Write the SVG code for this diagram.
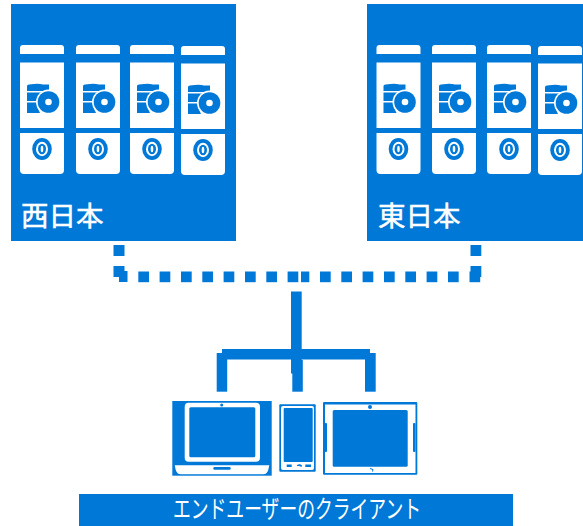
<svg xmlns="http://www.w3.org/2000/svg" xmlns:xlink="http://www.w3.org/1999/xlink" width="583" height="526" viewBox="0 0 583 526">
<style>
.b{fill:#0078d7}.w{fill:#fff}
.t{font-family:"Noto Sans CJK JP","Liberation Sans",sans-serif;fill:#fff}
.h{stroke:#fff;stroke-width:.5}
</style>
<defs>
<g id="server">
<path class="w" d="M0 54V48Q0 45 3 45H41Q44 45 44 48V54Z"/>
<rect class="w" y="62.500" width="44" height="65.500"/>
<path class="w" d="M0 133H44V170Q44 174 40 174H4Q0 174 0 170Z"/>
<path class="b" d="M7 86Q7 84.500 9 84.500L14 84Q19 83.500 23 84.500H29V91H7ZM7 92.500H27L20 101H7ZM7 102.500H17Q17 108 20 113H7Z"/>
<circle class="w" cx="28.500" cy="102" r="12.500"/>
<circle class="b" cx="28.500" cy="102" r="10.800"/>
<circle class="w" cx="28.500" cy="102" r="3.300"/>
<ellipse class="b" cx="22" cy="149" rx="9.800" ry="11"/>
<ellipse class="w" cx="22" cy="149" rx="6" ry="7.200"/>
<ellipse class="b" cx="22" cy="149" rx="4" ry="5.300"/>
<ellipse class="w" cx="22" cy="149" rx="1.300" ry="3.300"/>
</g>
</defs>
<g id="west">
<rect class="b" x="11" y="4" width="225" height="237"/>
<use xlink:href="#server" href="#server" x="20"/>
<use xlink:href="#server" href="#server" x="76"/>
<use xlink:href="#server" href="#server" x="130"/>
<use xlink:href="#server" href="#server" x="181" y="1"/>
<text class="t h" x="21" y="226" font-size="27.500">西日本</text>
</g>
<g id="east">
<rect class="b" x="367" y="4" width="216" height="237"/>
<use xlink:href="#server" href="#server" x="376.500"/>
<use xlink:href="#server" href="#server" x="432"/>
<use xlink:href="#server" href="#server" x="487"/>
<use xlink:href="#server" href="#server" x="538" y="1"/>
<text class="t h" x="378" y="226" font-size="27.500">東日本</text>
</g>
<g id="connectors" class="b">
<rect x="113.500" y="245" width="11" height="11"/>
<rect x="113.500" y="266" width="11" height="11"/>
<rect x="119" y="271" width="8.500" height="11"/>
<rect x="138.300" y="271.500" width="10.700" height="10.700"/>
<rect x="159.600" y="271.500" width="10.700" height="10.700"/>
<rect x="181" y="271.500" width="10.700" height="10.700"/>
<rect x="202.300" y="271.500" width="10.700" height="10.700"/>
<rect x="223.600" y="271.500" width="10.700" height="10.700"/>
<rect x="245" y="271.500" width="10.700" height="10.700"/>
<rect x="266.300" y="271.500" width="10.700" height="10.700"/>
<rect x="287.600" y="271.500" width="10.700" height="10.700"/>
<rect x="301" y="271.500" width="8.300" height="10.700"/>
<rect x="320" y="271.500" width="10.700" height="10.700"/>
<rect x="341.300" y="271.500" width="10.700" height="10.700"/>
<rect x="362.600" y="271.500" width="10.700" height="10.700"/>
<rect x="384" y="271.500" width="10.700" height="10.700"/>
<rect x="405.300" y="271.500" width="10.700" height="10.700"/>
<rect x="426.600" y="271.500" width="10.700" height="10.700"/>
<rect x="448" y="271.500" width="10.700" height="10.700"/>
<rect x="469.500" y="271.500" width="10.700" height="10.700"/>
<rect x="470.500" y="245" width="10.800" height="11"/>
<rect x="470.500" y="266" width="10.800" height="11"/>
<rect x="291" y="291.500" width="10.700" height="82"/>
<rect x="292.300" y="360" width="10.500" height="31.700"/>
<rect x="222" y="349" width="148" height="10.500"/>
<rect x="216.700" y="353" width="10.500" height="38.700"/>
<rect x="365" y="353" width="10.700" height="38.700"/>
</g>
<g id="laptop">
<rect class="b" x="172.300" y="401" width="99.400" height="74.700"/>
<rect class="w" x="184.700" y="402.700" width="75.300" height="59" rx="4"/>
<rect class="b" x="189.300" y="407.300" width="66" height="50" rx="1.500"/>
<circle class="b" cx="221.700" cy="405" r="1.500"/>
<path class="w" d="M174.700 465.300H269.300L268.500 469Q267.500 474.300 263 474.300H181Q176.500 474.300 175.500 469Z"/>
<rect class="b" x="213.300" y="467" width="17.400" height="2.700" rx="1.300"/>
</g>
<g id="phone">
<rect class="b" x="279.300" y="404.300" width="36.400" height="67.400" rx="1"/>
<rect class="w" x="281" y="406" width="33" height="64" rx="2"/>
<rect class="b" x="283.700" y="408" width="29" height="54" rx="1"/>
<rect class="b" x="286.700" y="464.500" width="5" height="2.500"/>
<path class="b" d="M297 465Q300 463.500 302 465.500L301.500 467Q299.500 465.500 297 466Z"/>
<rect class="b" x="305.300" y="464.500" width="5.700" height="2.500"/>
</g>
<g id="tablet">
<rect class="b" x="323" y="402" width="94.300" height="72.700" rx="1"/>
<path class="w" d="M325 404.500H415.500V473H325Z"/>
<rect class="b" x="332.700" y="410" width="75" height="56.700" rx="1.500"/>
<circle class="b" cx="370" cy="407" r="2"/>
<rect class="b" x="324.500" y="423" width="2.500" height="29" rx="1"/>
<rect class="b" x="413" y="423" width="2.500" height="29" rx="1"/>
<path d="M370 468.500L373 469.500L372.500 471.500" fill="none" stroke="#0078d7" stroke-width="1"/>
</g>
<g id="clients">
<rect class="b" x="79" y="494" width="434" height="32"/>
<text class="t" x="173" y="518" font-size="24.500" textLength="248" lengthAdjust="spacingAndGlyphs">エンドユーザーのクライアント</text>
</g>
</svg>
